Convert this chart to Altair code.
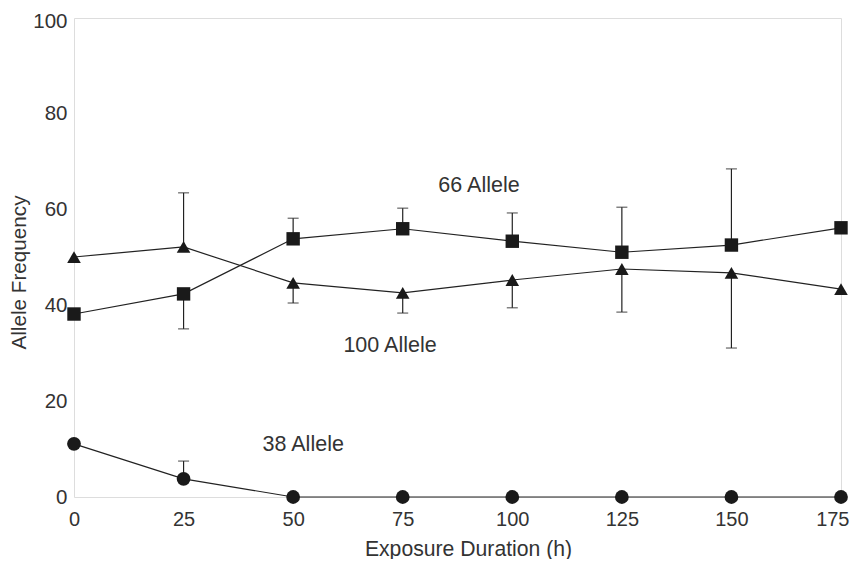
import altair as alt
import pandas as pd

hours = [0, 25, 50, 75, 100, 125, 150, 175]
allele_66 = [38.2, 42.4, 53.9, 56.0, 53.4, 51.1, 52.6, 56.2]
allele_100 = [50.1, 52.2, 44.7, 42.6, 45.3, 47.6, 46.8, 43.4]
allele_38 = [11.1, 3.8, 0, 0, 0, 0, 0, 0]

err_hours_66 = [25, 50, 75, 100, 125, 150]
err_end_66 = [35.1, 58.2, 60.3, 59.3, 60.5, 68.5]
err_hours_100 = [25, 50, 75, 100, 125, 150]
err_end_100 = [63.5, 40.5, 38.4, 39.5, 38.6, 31.1]
err_hours_38 = [25]
err_end_38 = [7.5]

y_ticks = [0, 20, 40, 60, 80, 100]

label_text = ["66 Allele", "100 Allele", "38 Allele"]
label_x = [92.4, 72.1, 52.3]
label_y = [64.9, 31.5, 10.9]

series_names = ["66", "100", "38"]
series_vals = [allele_66, allele_100, allele_38]
err_h = [err_hours_66, err_hours_100, err_hours_38]
err_e = [err_end_66, err_end_100, err_end_38]

rows = []
for name, vals in zip(series_names, series_vals):
    for h, v in zip(hours, vals):
        rows.append({"series": name, "hours": h, "value": v})
df = pd.DataFrame(rows)

erows = []
for name, vals, hs, es in zip(series_names, series_vals, err_h, err_e):
    lookup = dict(zip(hours, vals))
    for h, e in zip(hs, es):
        erows.append({"series": name, "hours": h, "value": lookup[h], "end": e})
edf = pd.DataFrame(erows)

ldf = pd.DataFrame({"text": label_text, "hours": label_x, "value": label_y})

FONT = "Liberation Sans"
TXT = "#333"
last_hour = hours[-1]
top_tick = y_ticks[-1]

xscale = alt.Scale(domain=[0, 175], nice=False)
yscale = alt.Scale(domain=[0, 100], nice=False)

xaxis = alt.Axis(values=hours, title="Exposure Duration (h)", grid=False, ticks=False,
                 domain=False, labelFontSize=20, labelColor=TXT, labelPadding=22,
                 labelBaseline="middle", labelFlush=False, labelOverlap=False,
                 labelAlign=alt.condition(f"datum.value == {last_hour}",
                                          alt.value("right"), alt.value("center")),
                 labelOffset=alt.condition(f"datum.value == {last_hour}",
                                           alt.value(8), alt.value(0)),
                 titleFontSize=21.2, titleColor=TXT, titleFontWeight="normal",
                 titleX=394, titleY=52, titleBaseline="middle",
                 labelFont=FONT, titleFont=FONT)
yaxis = alt.Axis(values=y_ticks, title="Allele Frequency", grid=False,
                 ticks=False, domain=False, labelFontSize=20.5, labelColor=TXT,
                 labelPadding=7, labelFlush=False, labelOverlap=False,
                 labelOffset=alt.condition(f"datum.value == {top_tick}",
                                           alt.value(3), alt.value(0)),
                 titleFontSize=20.7, titleColor=TXT,
                 titleFontWeight="normal", titleX=-54.5, titleY=254,
                 titleBaseline="middle",
                 labelFont=FONT, titleFont=FONT)

x = alt.X("hours:Q", scale=xscale, axis=xaxis)
y = alt.Y("value:Q", scale=yscale, axis=yaxis)

lines = alt.Chart(df).mark_line(color="#222", strokeWidth=1.2).encode(
    x=x, y=y, detail="series:N")

err_rule = alt.Chart(edf).mark_rule(color="#222", strokeWidth=1.2).encode(
    x="hours:Q", y="value:Q", y2="end:Q")
err_cap = alt.Chart(edf).mark_tick(color="#222", thickness=1.2, size=11,
                                   orient="horizontal").encode(
    x="hours:Q", y="end:Q")

shape_scale = alt.Scale(domain=series_names, range=["square", "triangle-up", "circle"])
size_scale = alt.Scale(domain=series_names, range=[180, 190, 150])
points = alt.Chart(df).mark_point(filled=True, color="#1a1a1a", opacity=1).encode(
    x="hours:Q", y="value:Q",
    shape=alt.Shape("series:N", scale=shape_scale, legend=None),
    size=alt.Size("series:N", scale=size_scale, legend=None))

labels = alt.Chart(ldf).mark_text(fontSize=21.5, color=TXT, font=FONT).encode(
    x="hours:Q", y="value:Q", text="text:N")

chart = alt.layer(lines, err_rule, err_cap, points, labels).properties(
    width=767, height=479,
    autosize=alt.AutoSizeParams(type="none"),
    padding={"left": 66, "top": 10, "right": 9, "bottom": 62},
).configure_view(stroke="#222", strokeWidth=1.2).configure(background="white")

chart.save("out.html", embed_options={"renderer": "svg", "actions": False})
